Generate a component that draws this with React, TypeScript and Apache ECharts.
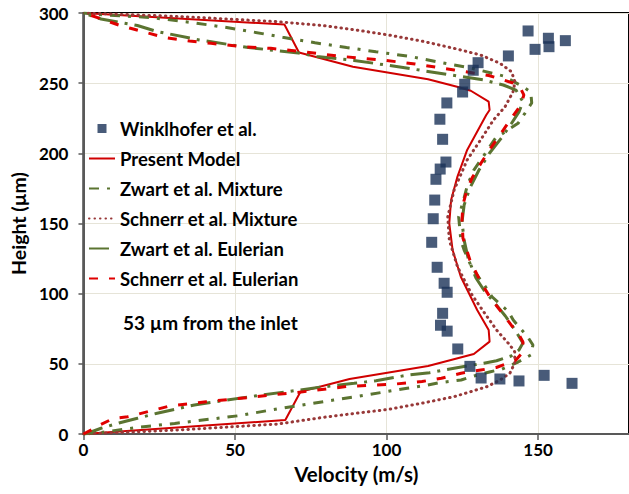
import { useEffect, useRef } from "react";
import * as echarts from "echarts";

// Measured velocity profile, Winklhofer et al.
const winkVel = [146.7, 153.4, 159.0, 153.6, 149.0, 140.2, 130.2, 128.6, 125.8, 125.1, 119.9, 117.6, 118.5, 119.6, 117.7, 116.3, 115.9, 115.4, 114.9, 116.7, 119.0, 120.0, 118.5, 117.8, 120.0, 123.5, 127.5, 131.2, 137.4, 143.7, 152.0, 161.2];
const winkH = [287.2, 282.0, 280.3, 276.0, 274.1, 269.4, 264.6, 259.2, 249.2, 243.7, 235.9, 224.3, 210.0, 193.8, 188.8, 181.5, 166.7, 153.4, 136.6, 118.8, 107.4, 101.0, 86.0, 77.5, 73.3, 60.6, 48.2, 39.9, 39.2, 37.8, 41.8, 36.1];

// Present model
const presentVel = [0, 66.6, 71.6, 87.8, 113.7, 128.8, 134.0, 133.7, 129.9, 124.5, 121.8, 120.7, 121.3, 123.4, 126.6, 132.9, 134.0, 133.7, 127.8, 123.9, 113.7, 88.9, 71.1, 66.3, 0];
const presentH = [0, 10.0, 30.1, 39.2, 48.5, 57.0, 65.8, 74.1, 88.4, 112.1, 131.1, 150.1, 166.8, 183.4, 202.4, 227.3, 230.9, 236.8, 244.6, 247.1, 252.8, 261.7, 271.9, 291.8, 300];

// Zwart et al. Mixture
const zwartMixVel = [0, 5.8, 18.8, 30.1, 51.1, 61.8, 72.2, 82.5, 93.2, 106.8, 113.6, 117.5, 124.6, 127.9, 134.3, 137.9, 143.4, 147.6, 148.3, 146.6, 141.8, 140.2, 134.8, 132.6, 128.2, 125.6, 124.5, 123.8, 125.1, 126.7, 128.8, 132.6, 135.9, 143.4, 145.7, 147.9, 147.6, 145.0, 138.6, 128.2, 118.2, 108.1, 96.5, 86.8, 76.4, 65.7, 55.4, 45.6, 35.0, 22.0, 6.8, 0];
const zwartMixH = [0, 1.1, 5.0, 7.5, 13.0, 17.1, 20.7, 24.2, 27.8, 32.6, 34.9, 36.6, 38.5, 40.8, 44.4, 46.1, 51.3, 56.3, 63.4, 69.1, 81.2, 87.2, 97.8, 105.0, 118.3, 131.1, 138.2, 154.8, 164.4, 177.4, 188.1, 200.0, 210.7, 221.4, 228.7, 235.9, 243.7, 247.5, 255.1, 260.6, 264.6, 268.9, 272.4, 275.4, 278.8, 282.7, 286.7, 290.2, 293.4, 296.8, 298.6, 300];

// Schnerr et al. Mixture
const schnerrMixVel = [0, 31.7, 64.1, 79.2, 90.0, 100.8, 111.6, 122.3, 133.1, 137.5, 140.7, 142.3, 142.3, 140.7, 136.3, 132.0, 128.2, 123.4, 120.7, 120.2, 122.3, 126.6, 131.0, 135.3, 139.1, 141.7, 142.4, 141.2, 137.4, 131.0, 122.3, 111.6, 100.7, 90.0, 79.2, 64.1, 31.7, 0];
const schnerrMixH = [0, 2.9, 7.1, 11.9, 14.8, 17.6, 21.9, 26.6, 33.7, 38.5, 43.3, 50.6, 58.6, 63.4, 74.1, 87.2, 99.1, 119.2, 138.2, 154.8, 173.9, 195.3, 209.5, 223.8, 233.2, 243.7, 250.8, 258.2, 264.2, 270.1, 274.8, 280.0, 284.3, 287.9, 291.0, 293.8, 297.5, 300];

// Zwart et al. Eulerian
const zwartEulVel = [0, 1.6, 5.8, 11.7, 17.8, 24.3, 36.6, 45.6, 57.6, 71.5, 78.0, 89.3, 96.5, 107.1, 114.2, 126.6, 132.1, 136.3, 141.1, 143.7, 145.0, 142.4, 139.2, 135.8, 132.1, 129.5, 126.9, 125.6, 124.9, 125.6, 127.5, 130.5, 134.0, 137.9, 141.1, 143.7, 145.0, 142.7, 138.5, 132.1, 124.9, 114.2, 107.1, 95.8, 89.3, 77.0, 70.9, 54.4, 38.2, 24.3, 17.8, 5.8, 0];
const zwartEulH = [0, 0.7, 4.1, 7.8, 11.2, 14.8, 20.7, 23.7, 27.4, 31.4, 33.3, 36.1, 38.0, 42.0, 43.7, 48.5, 50.4, 52.2, 55.6, 59.9, 64.8, 74.1, 84.1, 93.1, 102.6, 111.2, 125.4, 138.2, 151.1, 163.2, 175.3, 188.1, 200.2, 210.9, 220.9, 229.5, 236.8, 245.1, 248.7, 252.3, 254.6, 258.2, 260.6, 264.2, 266.2, 269.0, 271.5, 275.4, 280.8, 286.8, 291.1, 295.7, 300];

// Schnerr et al. Eulerian
const schnerrEulVel = [0, 2.6, 4.9, 10.0, 14.6, 17.8, 28.5, 40.5, 54.4, 64.1, 70.6, 86.7, 102.9, 111.7, 118.1, 124.6, 131.1, 136.2, 140.1, 142.7, 145.0, 145.0, 143.4, 141.1, 137.9, 134.3, 131.1, 127.5, 125.2, 124.9, 125.2, 126.5, 128.2, 131.4, 134.6, 138.5, 141.7, 144.3, 145.3, 144.0, 141.7, 138.5, 133.7, 122.3, 109.4, 99.7, 83.5, 70.6, 61.8, 52.1, 42.1, 35.0, 26.9, 15.5, 12.3, 7.4, 2.6, 0];
const schnerrEulH = [0, 2.9, 5.9, 11.2, 12.3, 14.0, 20.0, 23.0, 26.0, 28.3, 29.6, 33.8, 35.6, 37.4, 39.7, 43.3, 45.6, 47.4, 50.4, 52.7, 58.4, 65.6, 72.0, 77.7, 86.9, 96.9, 108.3, 124.0, 139.7, 152.5, 163.2, 173.9, 182.4, 193.8, 204.5, 216.6, 226.6, 234.4, 241.6, 247.3, 250.1, 252.3, 255.5, 259.4, 263.7, 266.2, 269.4, 272.9, 274.8, 276.1, 278.4, 280.0, 282.5, 289.1, 290.9, 294.6, 298.2, 300];

const zip = (xs: number[], ys: number[]) => xs.map((x, i) => [x, ys[i]]);

const FONT = "Lato";
const bold = (fontSize: number) => ({ fontFamily: FONT, fontWeight: "bold" as const, color: "#000", fontSize });

// legend entries for the lines show only the stroke, no marker
const lineEntry = (name: string) => ({ name, itemStyle: { opacity: 0 } });

export default function App() {
  const ref = useRef<HTMLDivElement>(null);

  useEffect(() => {
    const chart = echarts.init(ref.current!, null, { renderer: "svg" });
    const lineSeries = (name: string, data: number[][], color: string, width: number, type: any, cap = "butt") => ({
      name,
      type: "line",
      data,
      symbol: "none",
      showSymbol: false,
      z: 2,
      itemStyle: { color },
      lineStyle: { color, width, type, cap },
    });

    chart.setOption({
      animation: false,
      backgroundColor: "#fff",
      textStyle: { fontFamily: FONT },
      grid: {
        left: 82,
        top: 13,
        right: -9,
        bottom: 60,
        show: true,
        borderColor: "#000",
        borderWidth: 2,
        backgroundColor: "transparent",
      },
      xAxis: {
        type: "value",
        min: 0,
        max: 180,
        interval: 50,
        name: "Velocity (m/s)",
        nameLocation: "middle",
        nameGap: 29,
        nameTextStyle: bold(20.5),
        axisLine: { show: true, lineStyle: { color: "#595959", width: 2 } },
        axisTick: { show: true, length: 6, lineStyle: { color: "#595959", width: 1.5 } },
        axisLabel: { ...bold(17), margin: 7, showMaxLabel: false },
        splitLine: { show: true, lineStyle: { color: "#E6E4D8", width: 1 } },
      },
      yAxis: {
        type: "value",
        min: 0,
        max: 300,
        interval: 50,
        name: "Height (µm)",
        nameLocation: "middle",
        nameGap: 54,
        nameTextStyle: bold(19.5),
        axisLine: { show: true, lineStyle: { color: "#595959", width: 2 } },
        axisTick: { show: true, length: 5, lineStyle: { color: "#595959", width: 1.5 } },
        axisLabel: { ...bold(17), margin: 15 },
        splitLine: { show: true, lineStyle: { color: "#E6E4D8", width: 1 } },
      },
      legend: {
        orient: "vertical",
        left: 88,
        top: 119,
        padding: 0,
        itemWidth: 26,
        itemHeight: 9,
        itemGap: 11,
        textStyle: bold(18.5),
        data: [
          { name: "Winklhofer et al.", icon: "path://M0 0H10V10H0Z" },
          lineEntry("Present Model"),
          lineEntry("Zwart et al. Mixture"),
          lineEntry("Schnerr et al. Mixture"),
          lineEntry("Zwart et al. Eulerian"),
          lineEntry("Schnerr et al. Eulerian"),
        ],
      },
      graphic: [
        {
          type: "text",
          left: 123,
          top: 313,
          style: { text: "53 µm from the inlet", font: `bold 19px ${FONT}`, fill: "#000" },
        },
      ],
      series: [
        {
          name: "Winklhofer et al.",
          type: "scatter",
          data: zip(winkVel, winkH),
          symbol: "rect",
          symbolSize: 11,
          z: 5,
          itemStyle: { color: "#1A3257" },
        },
        lineSeries("Present Model", zip(presentVel, presentH), "#D00000", 2, "solid"),
        lineSeries("Zwart et al. Mixture", zip(zwartMixVel, zwartMixH), "#5B7431", 3, [10, 8, 3, 8]),
        lineSeries("Schnerr et al. Mixture", zip(schnerrMixVel, schnerrMixH), "#983838", 3, [0.5, 5], "round"),
        lineSeries("Zwart et al. Eulerian", zip(zwartEulVel, zwartEulH), "#5B7431", 3, [20, 7, 3, 7]),
        lineSeries("Schnerr et al. Eulerian", zip(schnerrEulVel, schnerrEulH), "#E00000", 3, [9, 11]),
      ],
    });
    return () => chart.dispose();
  }, []);

  return (
    <div
      ref={ref}
      style={{ position: "fixed", left: 0, top: 0, width: 629, height: 494, background: "#fff" }}
    />
  );
}
